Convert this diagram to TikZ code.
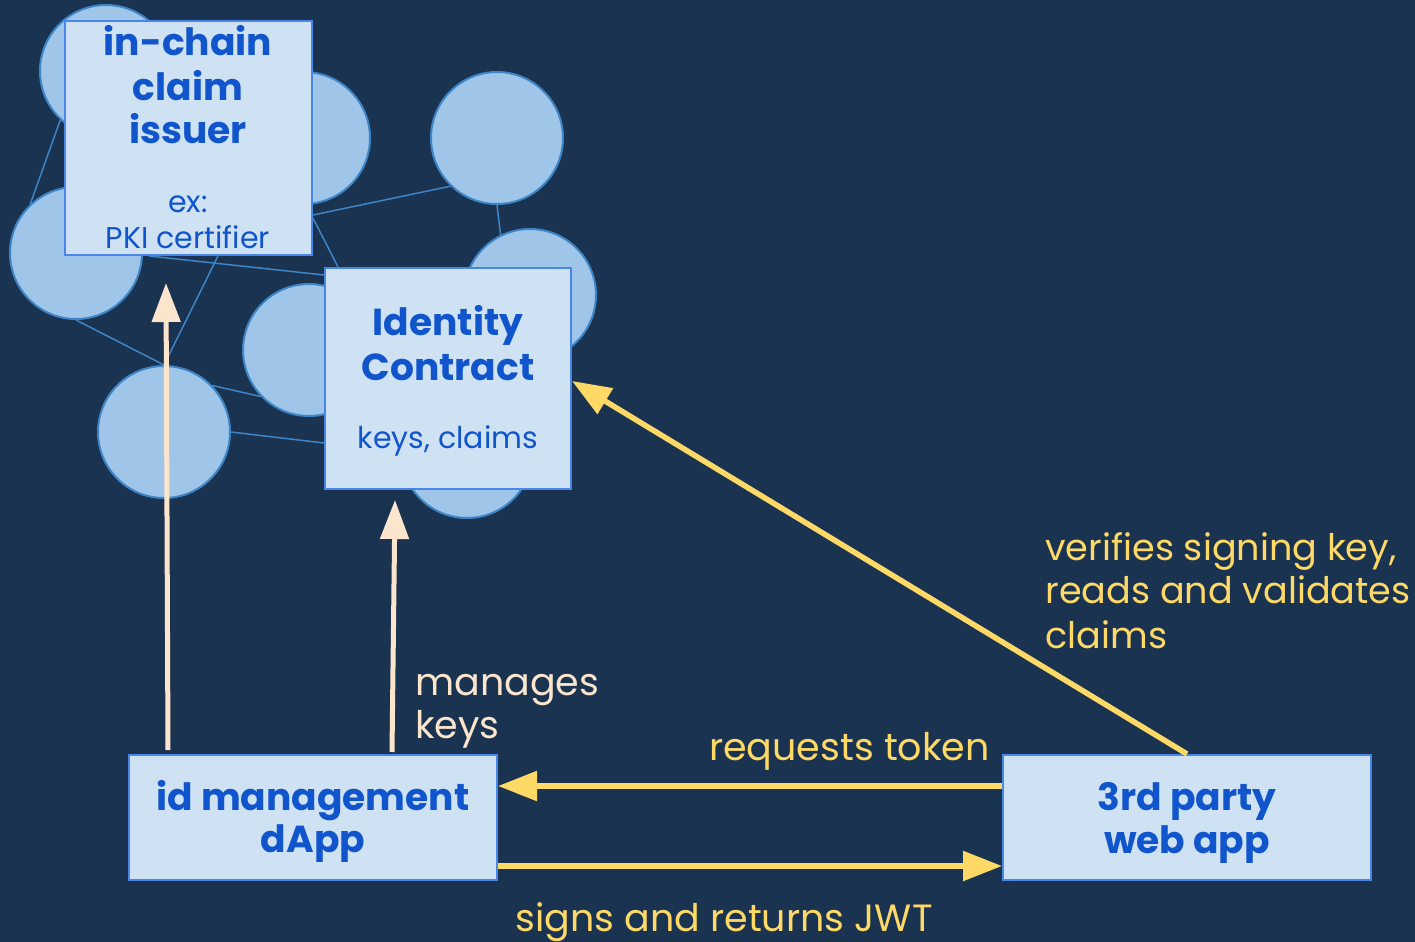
\documentclass[tikz,border=0pt]{standalone}
\usepackage{fontspec}
\setmainfont{Poppins}
\usetikzlibrary{arrows.meta,calc}
\definecolor{bg}{HTML}{1A3350}
\definecolor{boxfill}{HTML}{CFE2F3}
\definecolor{boxline}{HTML}{4A86E8}
\definecolor{circfill}{HTML}{9FC5E8}
\definecolor{circline}{HTML}{3D85C6}
\definecolor{txtblue}{HTML}{1155CC}
\definecolor{peach}{HTML}{FCE5CD}
\definecolor{yel}{HTML}{FFD966}
\tikzset{
  bubble/.style={circle, fill=circfill, draw=circline, line width=1pt, minimum size=66pt, inner sep=0pt},
  link/.style={draw=circline, line width=0.75pt},
  boxnode/.style={rectangle, fill=boxfill, draw=boxline, line width=1pt, inner sep=0pt},
  titletxt/.style={text=txtblue, font=\fontsize{18.8}{22}\selectfont\bfseries, anchor=base, inner sep=0pt},
  subtxt/.style={text=txtblue, font=\fontsize{15}{17}\selectfont, anchor=base, inner sep=0pt},
  lbl/.style={font=\fontsize{19}{22}\selectfont, inner sep=0pt},
  vlbl/.style={font=\fontsize{18.3}{22}\selectfont, inner sep=0pt, text=yel, anchor=base west},
  peacharrow/.style={draw=peach, line width=2.5pt, -{Triangle[length=19.5pt,width=14pt]}},
  yelarrow/.style={draw=yel, line width=2.75pt, -{Triangle[length=19.5pt,width=14.5pt]}}
}
\begin{document}
\begin{tikzpicture}[x=0.5pt,y=-0.5pt]
\useasboundingbox[fill=bg] (0,0) rectangle (1415,942);
% bubbles
\path (106,71) node[bubble] (c1) {};
\path (304,138) node[bubble] (c2) {};
\path (497,138) node[bubble] (c3) {};
\path (76,253) node[bubble] (c4) {};
\path (530,295) node[bubble] (c5) {};
\path (309,350) node[bubble] (c6) {};
\path (164,432) node[bubble] (c7) {};
\path (467,452) node[bubble] (c8) {};
% boxes
\node[boxnode, minimum width=123.5pt, minimum height=117pt] (issuer) at (188.5,138) {};
\node[boxnode, minimum width=123pt, minimum height=110.5pt] (identity) at (448,378.5) {};
\node[boxnode, minimum width=184pt, minimum height=62.5pt] (dapp) at (313,817.5) {};
\node[boxnode, minimum width=184pt, minimum height=62.5pt] (third) at (1187,817.5) {};
% links
\draw[link] (c1.227) -- (c4.133);
\draw[link] ([yshift=-38.5pt]issuer.east) -- (c3.226);
\draw[link] (c3.270) -- (c5.116);
\draw[link] ([yshift=-40pt]issuer.east) -- ([xshift=7pt]identity.north west);
\draw[link] ([xshift=42.5pt]issuer.south west) -- ([yshift=-4pt]identity.north west);
\draw[link] ([xshift=77pt]issuer.south west) -- (c7.north);
\draw[link] (c4.south) -- (c7.north);
\draw[link] (c7.44) -- (c6.224);
\draw[link] (c7.east) -- ([yshift=-32.25pt]identity.west);
% box texts
\node[titletxt] (t1) at (188,55) {in-chain};
\node[titletxt] (t2) at (188,100) {claim};
\node[titletxt] (t3) at (188,143) {issuer};
\node[subtxt] (t4) at (188,212) {ex:};
\node[subtxt] (t5) at (188,248) {PKI certifier};
\node[titletxt] (t6) at (448,335) {Identity};
\node[titletxt] (t7) at (448,380) {Contract};
\node[subtxt] (t8) at (448,448) {keys, claims};
\node[titletxt] (t9) at (313,810) {id management};
\node[titletxt] (t10) at (313,852) {dApp};
\node[titletxt] (t11) at (1187,810) {3rd party};
\node[titletxt] (t12) at (1187,853) {web app};
% arrows
\coordinate (a1s) at (168,750);
\coordinate (a1e) at (166,283);
\draw[peacharrow] (a1s) -- (a1e);
\coordinate (a2s) at (392,752);
\coordinate (a2e) at (395,500);
\draw[peacharrow] (a2s) -- (a2e);
\draw[yelarrow] (third.north) -- ([yshift=-1.25pt]identity.east);
\draw[yelarrow] ([yshift=15.75pt]third.west) -- ([yshift=15.75pt]dapp.east);
\draw[yelarrow] ([yshift=-24.25pt]dapp.east) -- ([yshift=-24.25pt]third.west);
% labels
\node[lbl, text=peach, anchor=base west] (l1) at (415,695) {manages};
\node[lbl, text=peach, anchor=base west] (l2) at (415,738) {keys};
\node[vlbl] (l3) at (1045,560) {verifies signing key,};
\node[vlbl] (l4) at (1045,603) {reads and validates};
\node[vlbl] (l5) at (1045,648) {claims};
\node[lbl, text=yel, anchor=base east] (l6) at (990,760) {requests token};
\node[lbl, text=yel, anchor=base west] (l7) at (515,931) {signs and returns JWT};
\end{tikzpicture}
\end{document}
